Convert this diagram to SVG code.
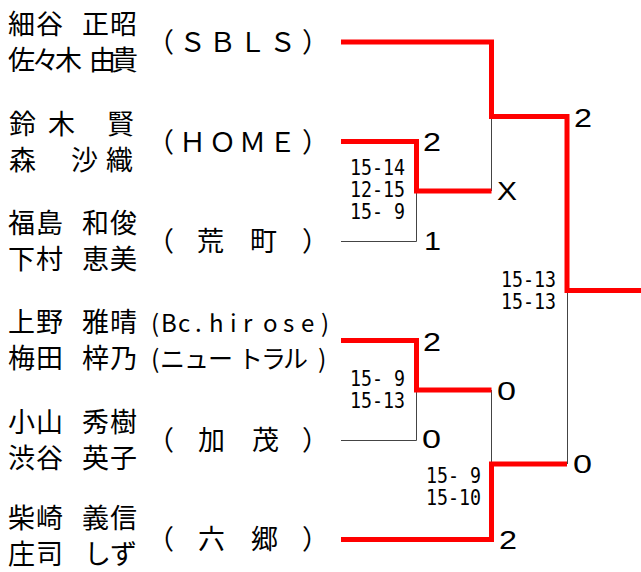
<svg xmlns="http://www.w3.org/2000/svg" width="641" height="572" viewBox="0 0 641 572">
<style>
.nm{font-family:"Noto Sans CJK JP","Noto Sans",sans-serif;font-size:27px;fill:#000}
.tm{font-family:"Noto Sans CJK JP","Noto Sans",sans-serif;font-size:27px;fill:#000}
.hw{font-family:"Noto Sans CJK JP","Noto Sans",sans-serif;font-size:24px;fill:#000}
.kn{font-family:"Noto Sans CJK JP","Noto Sans",sans-serif;font-size:25px;fill:#000}
.sc{font-family:"DejaVu Sans Mono","Liberation Mono",monospace;font-size:21px;fill:#000}
.rs{font-family:"Liberation Sans",Arial,sans-serif;font-size:25px;fill:#000}
.win{fill:none;stroke:#ff0000;stroke-width:5;stroke-linejoin:miter;stroke-linecap:butt}
.lose{fill:none;stroke:#444;stroke-width:1}
</style>
<rect width="641" height="572" fill="#fff"/>
<g id="connectors">
<path class="lose" d="M341,241.5H416.5V191"/>
<path class="lose" d="M491.5,117V191"/>
<path class="lose" d="M341,440.5H416.5V390"/>
<path class="lose" d="M491.5,390V464"/>
<path class="lose" d="M567.5,291V464"/>
<path class="win" d="M341,42H491.5V116.5H567V290.5H641"/>
<path class="win" d="M341,141.5H416.5V191H491.5"/>
<path class="win" d="M341,340.5H416.5V390H491.5"/>
<path class="win" d="M341,539.5H491.5V464H567"/>
</g>
<g id="team-sbls">
<text class="nm" xml:space="preserve" x="8 36 63 82 110" y="34">細谷　正昭</text>
<text class="nm" xml:space="preserve" x="8 32 55 81 89 111" y="70">佐々木 由貴</text>
<text class="tm" x="147 179 209 239 269 302" y="52">（ＳＢＬＳ）</text>
</g>
<g id="team-home">
<text class="nm" xml:space="preserve" x="9 48 75 90 107" y="134">鈴木　　賢</text>
<text class="nm" xml:space="preserve" x="9 36 54 71 106" y="170">森　　沙織</text>
<text class="tm" x="147 179 209 239 269 302" y="152">（ＨＯＭＥ）</text>
</g>
<g id="team-aramachi">
<text class="nm" xml:space="preserve" x="8 36 63 82 110" y="233">福島　和俊</text>
<text class="nm" xml:space="preserve" x="8 36 63 82 110" y="269">下村　恵美</text>
<text class="tm" xml:space="preserve" x="147 172 197 222 250 275 302" y="251">（　荒　町　）</text>
</g>
<g id="team-bc-hirose">
<text class="nm" xml:space="preserve" x="8 36 63 82 110" y="332">上野　雅晴</text>
<text class="nm" xml:space="preserve" x="8 36 63 82 110" y="368">梅田　梓乃</text>
<text class="hw" xml:space="preserve" x="151 161 178 195 202 209 230 243 263 283 301 321" y="332">(Bc. hirose)</text>
<text class="kn" x="151 160 184 208 238 261 283 318" y="368">(ニュートラル)</text>
</g>
<g id="team-kamo">
<text class="nm" xml:space="preserve" x="8 36 63 82 110" y="432">小山　秀樹</text>
<text class="nm" xml:space="preserve" x="8 36 63 82 110" y="468">渋谷　英子</text>
<text class="tm" xml:space="preserve" x="147 172 198 222 252 275 302" y="450">（　加　茂　）</text>
</g>
<g id="team-rokugo">
<text class="nm" xml:space="preserve" x="8 36 63 82 110" y="528">柴崎　義信</text>
<text class="nm" xml:space="preserve" x="8 36 63 84 110" y="564">庄司　しず</text>
<text class="tm" xml:space="preserve" x="147 172 198 222 251 275 302" y="549">（　六　郷　）</text>
</g>
<g id="scores">
<text class="sc" xml:space="preserve" x="350" y="175" textLength="55" lengthAdjust="spacingAndGlyphs">15-14</text>
<text class="sc" xml:space="preserve" x="350" y="197" textLength="55" lengthAdjust="spacingAndGlyphs">12-15</text>
<text class="sc" xml:space="preserve" x="350" y="219" textLength="55" lengthAdjust="spacingAndGlyphs">15- 9</text>
<text class="sc" xml:space="preserve" x="350" y="386" textLength="55" lengthAdjust="spacingAndGlyphs">15- 9</text>
<text class="sc" xml:space="preserve" x="350" y="408" textLength="55" lengthAdjust="spacingAndGlyphs">15-13</text>
<text class="sc" xml:space="preserve" x="426" y="483" textLength="55" lengthAdjust="spacingAndGlyphs">15- 9</text>
<text class="sc" xml:space="preserve" x="426" y="505" textLength="55" lengthAdjust="spacingAndGlyphs">15-10</text>
<text class="sc" xml:space="preserve" x="501" y="287" textLength="55" lengthAdjust="spacingAndGlyphs">15-13</text>
<text class="sc" xml:space="preserve" x="501" y="309" textLength="55" lengthAdjust="spacingAndGlyphs">15-13</text>
</g>
<g id="results">
<text class="rs" x="423" y="151" textLength="18" lengthAdjust="spacingAndGlyphs">2</text>
<text class="rs" x="497" y="200" textLength="20" lengthAdjust="spacingAndGlyphs">X</text>
<text class="rs" x="424" y="250" textLength="17" lengthAdjust="spacingAndGlyphs">1</text>
<text class="rs" x="574" y="127" textLength="18" lengthAdjust="spacingAndGlyphs">2</text>
<text class="rs" x="423" y="351" textLength="18" lengthAdjust="spacingAndGlyphs">2</text>
<text class="rs" x="497" y="400" textLength="19" lengthAdjust="spacingAndGlyphs">0</text>
<text class="rs" x="422" y="448" textLength="19" lengthAdjust="spacingAndGlyphs">0</text>
<text class="rs" x="573" y="473" textLength="19" lengthAdjust="spacingAndGlyphs">0</text>
<text class="rs" x="499" y="549" textLength="18" lengthAdjust="spacingAndGlyphs">2</text>
</g>
</svg>
